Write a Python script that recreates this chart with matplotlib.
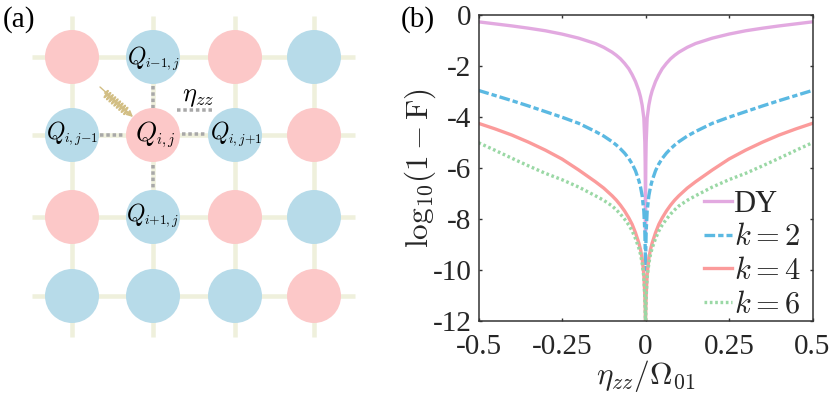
import numpy as np
import matplotlib
matplotlib.use('Agg')
import matplotlib.pyplot as plt
from matplotlib.patches import Circle

plt.rcParams['font.family'] = ['Liberation Serif', 'DejaVu Serif']
plt.rcParams['mathtext.fontset'] = 'cm'

# panel (b)
eta = [-0.5, -0.45, -0.4, -0.35, -0.3, -0.25, -0.2, -0.15, -0.125, -0.1, -0.0875, -0.075, -0.0625, -0.05, -0.04, -0.03, -0.02, -0.015, -0.01, -0.005, -0.002, -0.001, -0.0003, 0,
       0.0003, 0.001, 0.002, 0.005, 0.01, 0.015, 0.02, 0.03, 0.04, 0.05, 0.0625, 0.075, 0.0875, 0.1, 0.125, 0.15, 0.2, 0.25, 0.3, 0.35, 0.4, 0.45, 0.5]
dy = [-0.28, -0.36, -0.44, -0.53, -0.63, -0.76, -0.92, -1.13, -1.28, -1.47, -1.59, -1.73, -1.91, -2.12, -2.35, -2.62, -2.98, -3.22, -3.55, -4.05, -5.0, -5.8, -7.0, -8.5,
      -7.0, -5.8, -5.0, -4.05, -3.55, -3.22, -2.98, -2.62, -2.35, -2.12, -1.91, -1.73, -1.59, -1.47, -1.28, -1.13, -0.92, -0.76, -0.63, -0.53, -0.44, -0.36, -0.28]
k2 = [-2.97, -3.17, -3.37, -3.58, -3.8, -4.02, -4.26, -4.58, -4.76, -4.98, -5.11, -5.26, -5.43, -5.64, -5.85, -6.12, -6.5, -6.75, -7.1, -7.7, -8.5, -9.1, -9.6, -10,
      -9.6, -9.1, -8.5, -7.7, -7.1, -6.75, -6.5, -6.12, -5.85, -5.64, -5.43, -5.26, -5.11, -4.98, -4.76, -4.58, -4.26, -4.02, -3.8, -3.58, -3.37, -3.17, -2.97]
k4 = [-4.26, -4.48, -4.72, -5.0, -5.31, -5.66, -6.09, -6.55, -6.8, -7.1, -7.27, -7.47, -7.7, -7.97, -8.22, -8.55, -8.95, -9.2, -9.55, -10.2, -11.0, -11.5, -12, -12,
      -12, -11.5, -11.0, -10.2, -9.55, -9.2, -8.95, -8.55, -8.22, -7.97, -7.7, -7.47, -7.27, -7.1, -6.8, -6.55, -6.09, -5.66, -5.31, -5.0, -4.72, -4.48, -4.26]
k6 = [-5.02, -5.32, -5.63, -5.93, -6.22, -6.47, -6.76, -7.1, -7.28, -7.5, -7.65, -7.82, -8.02, -8.25, -8.48, -8.78, -9.15, -9.4, -9.75, -10.3, -11.1, -11.6, -12, -12,
      -12, -11.6, -11.1, -10.3, -9.75, -9.4, -9.15, -8.78, -8.48, -8.25, -8.02, -7.82, -7.65, -7.5, -7.28, -7.1, -6.76, -6.47, -6.22, -5.93, -5.63, -5.32, -5.02]
x_ticks = [-0.5, -0.25, 0, 0.25, 0.5]
x_labels = ['-0.5', '-0.25', '0', '0.25', '0.5']
y_ticks = [-12, -10, -8, -6, -4, -2, 0]
y_labels = ['-12', '-10', '-8', '-6', '-4', '-2', '0']

# panel (a) qubit colours, row by row
pink = '#FCC8C8'
blue = '#B7DBE9'
grid_colors = [[pink, blue, pink, blue],
               [blue, pink, blue, pink],
               [pink, blue, pink, blue],
               [blue, blue, blue, pink]]
col_x = [72, 153, 235, 314]
row_y = [57, 135, 217, 296]

W, H = 831, 394
fig = plt.figure(figsize=(W / 100, H / 100), dpi=100)

# overlay in pixel coordinates for the schematic
bg = fig.add_axes([0, 0, 1, 1])
bg.set_xlim(0, W)
bg.set_ylim(H, 0)
bg.axis('off')

px = 0.72  # one pixel in points
for y in row_y:
    bg.plot([32, 355], [y, y], color='#EFF0DC', lw=4.5 * px, zorder=1, solid_capstyle='butt')
for x in col_x:
    bg.plot([x, x], [16, 337], color='#EFF0DC', lw=4.5 * px, zorder=1, solid_capstyle='butt')
for r, y in enumerate(row_y):
    for c, x in enumerate(col_x):
        bg.add_patch(Circle((x, y), 27, fc=grid_colors[r][c], ec='none', zorder=2))

# dotted ZZ couplings
for seg in [((153, 86), (153, 108)), ((153, 165), (153, 189)), ((100, 135), (125, 135)),
            ((182, 134), (206, 134)), ((177, 110), (214, 110))]:
    bg.plot(*zip(*seg), color='#A8A8A8', lw=3.5 * px, ls=(0, (1, 0.8)), zorder=3)

# drive arrow with wiggle
tan = '#D2BE84'
bg.annotate('', xy=(133, 117), xytext=(100, 87),
            arrowprops=dict(arrowstyle='-|>', color=tan, lw=1.0, shrinkA=0, shrinkB=0, mutation_scale=9), zorder=4)
t = np.linspace(0, 1, 145)
wig = 3.8 * np.sin(2 * np.pi * 9 * t)
bg.plot(105 + 22 * t + 0.66 * wig, 93 + 19 * t - 0.75 * wig, color=tan, lw=1.2, zorder=4)

bg.text(3, 27, '(a)', fontsize=21, va='baseline')
bg.text(401, 27, '(b)', fontsize=21, va='baseline')

# big Q and tight subscript drawn apart, mathtext scales them too evenly
for sub, qx, sx, qy, fq, fs in [(r'$i{-}1,j$', 127, 145, 57, 17, 9.7),
                                (r'$i,j{-}1$', 46, 64, 132, 17, 9.7),
                                (r'$i,j{+}1$', 210, 228, 133, 17, 9.7),
                                (r'$i{+}1,j$', 126, 144, 214, 17, 9.7),
                                (r'$i,j$', 135, 156, 134, 19.5, 10.5)]:
    bg.text(qx, qy, r'$Q$', fontsize=fq, ha='left', va='center', zorder=5)
    bg.text(sx, qy + 6.5, sub, fontsize=fs, ha='left', va='center', zorder=5)
bg.text(198, 98, r'$\eta_{zz}$', fontsize=19, ha='center', va='center', zorder=5)

ax = fig.add_axes([478.5 / W, 1 - 320.7 / H, 334 / W, 306 / H])
ax.patch.set_alpha(0)
ax.plot(eta, dy, color='#E2A9E0', lw=2.4, label='DY')
ax.plot(eta, k2, color='#5BB9E2', lw=2.4, ls=(0, (3.2, 0.9, 1.6, 0.9)), label=r'$k=2$')
ax.plot(eta, k4, color='#FB9B9B', lw=2.4, label=r'$k=4$')
ax.plot(eta, k6, color='#9AD8A5', lw=2.4, ls=(0, (0.8, 0.8)), label=r'$k=6$')
ax.set_xlim(-0.5, 0.5)
ax.set_ylim(-12, 0)
ax.set_xticks(x_ticks, x_labels)
ax.set_yticks(y_ticks, y_labels)
ax.tick_params(axis='both', direction='in', top=True, right=True, length=2.5, width=1.0, labelsize=21,
               color='#333333', labelcolor='#262626')
ax.tick_params(axis='x', pad=9.5)
ax.tick_params(axis='y', pad=5)
for s in ax.spines.values():
    s.set_linewidth(1.1)
    s.set_color('#333333')
ax.set_xlabel(r'$\eta_{zz}/\Omega_{01}$', fontsize=22.5, labelpad=-1.5, color='#262626')
ax.set_ylabel(r'$\log_{10}\!(1-\mathrm{F})$', fontsize=22.5, labelpad=-4, color='#262626')
ax.legend(loc='lower right', bbox_to_anchor=(1, -11 / 306), frameon=False, fontsize=22, labelspacing=0.15,
          handlelength=0.9, handletextpad=0.06, borderpad=0, borderaxespad=0.4, labelcolor='#262626')

fig.savefig('out.png', dpi=100)
